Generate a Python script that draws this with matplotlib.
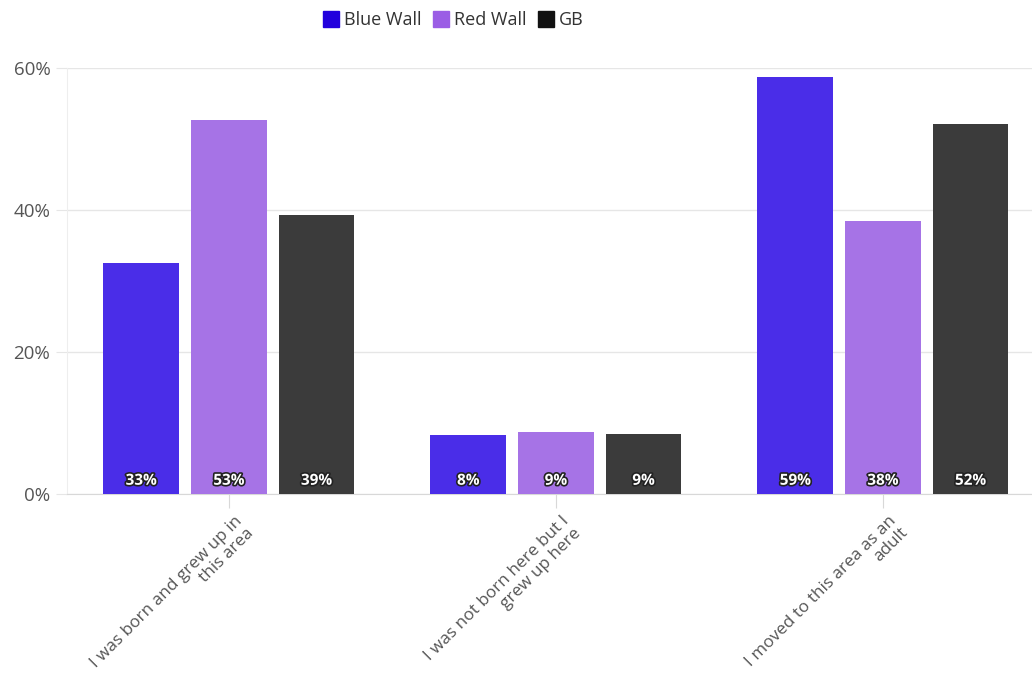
import matplotlib
matplotlib.use("Agg")
import matplotlib.pyplot as plt
import matplotlib.patheffects as pe
from matplotlib.lines import Line2D
import numpy as np

categories = ["I was born and grew up in\nthis area",
              "I was not born here but I\ngrew up here",
              "I moved to this area as an\nadult"]
series_names = ["Blue Wall", "Red Wall", "GB"]
blue_wall = [32.6, 8.3, 58.8]
red_wall = [52.7, 8.8, 38.4]
gb = [39.3, 8.5, 52.1]
value_labels = [["33%", "8%", "59%"], ["53%", "9%", "38%"], ["39%", "9%", "52%"]]
yticks = [0, 20, 40, 60]
ytick_labels = ["0%", "20%", "40%", "60%"]

bar_colors = ["#4A2DE8", "#A673E6", "#3B3B3B"]
legend_colors = ["#2200DD", "#9B5DE5", "#111111"]

plt.rcParams['font.family'] = ['Open Sans', 'DejaVu Sans']

fig = plt.figure(figsize=(10.32, 6.84), dpi=100)
ax = fig.add_axes([67/1032, 1-494/684, 1-67/1032, (494-68)/684])

x = np.arange(len(categories))
width = 0.232
step = 0.268
series = [blue_wall, red_wall, gb]
for i, vals in enumerate(series):
    pos = x + (i - 1) * step
    ax.bar(pos, vals, width=width, color=bar_colors[i], zorder=3)
    for p, lab in zip(pos, value_labels[i]):
        ax.annotate(lab, xy=(p, 0), xytext=(0, 4.5), textcoords='offset points',
                    ha='center', va='bottom', color='white', fontsize=11,
                    fontweight='bold', zorder=5,
                    path_effects=[pe.withStroke(linewidth=2.4, foreground='#222222')])

ax.set_xlim(-0.495, 2.456)
ax.set_ylim(0, 60)
ax.set_yticks(yticks)
ax.set_yticklabels(ytick_labels, fontsize=13.5, color='#555555')
ax.grid(axis='y', color='#e6e6e6', linewidth=1, zorder=0)
for s in ['top', 'right']:
    ax.spines[s].set_visible(False)
ax.spines['left'].set_color('#eeeeee')
ax.spines['bottom'].set_color('#d8d8d8')
ax.tick_params(axis='y', length=8, color='#e6e6e6', pad=4)
ax.tick_params(axis='x', length=10, color='#d8d8d8')
ax.set_xticks(x)
ax.set_xticklabels([])

for xi, cat in zip(x, categories):
    ax.annotate(cat, xy=(xi, 0), xycoords=('data', 'axes fraction'),
                xytext=(12, -22), textcoords='offset points',
                rotation=45, rotation_mode='anchor', ha='right', va='center',
                fontsize=12.3, color='#555555', multialignment='right',
                linespacing=1.1)

handles = [Line2D([0], [0], marker='s', color='none', markerfacecolor=c,
                  markeredgecolor=c, markersize=12) for c in legend_colors]
fig.legend(handles, series_names, loc='center', bbox_to_anchor=(454/1032, 1-20/684),
           ncol=3, frameon=False, fontsize=13, handlelength=0.8,
           handletextpad=0.3, columnspacing=0.7, labelcolor='#333333')

fig.savefig("out.png", dpi=100)
